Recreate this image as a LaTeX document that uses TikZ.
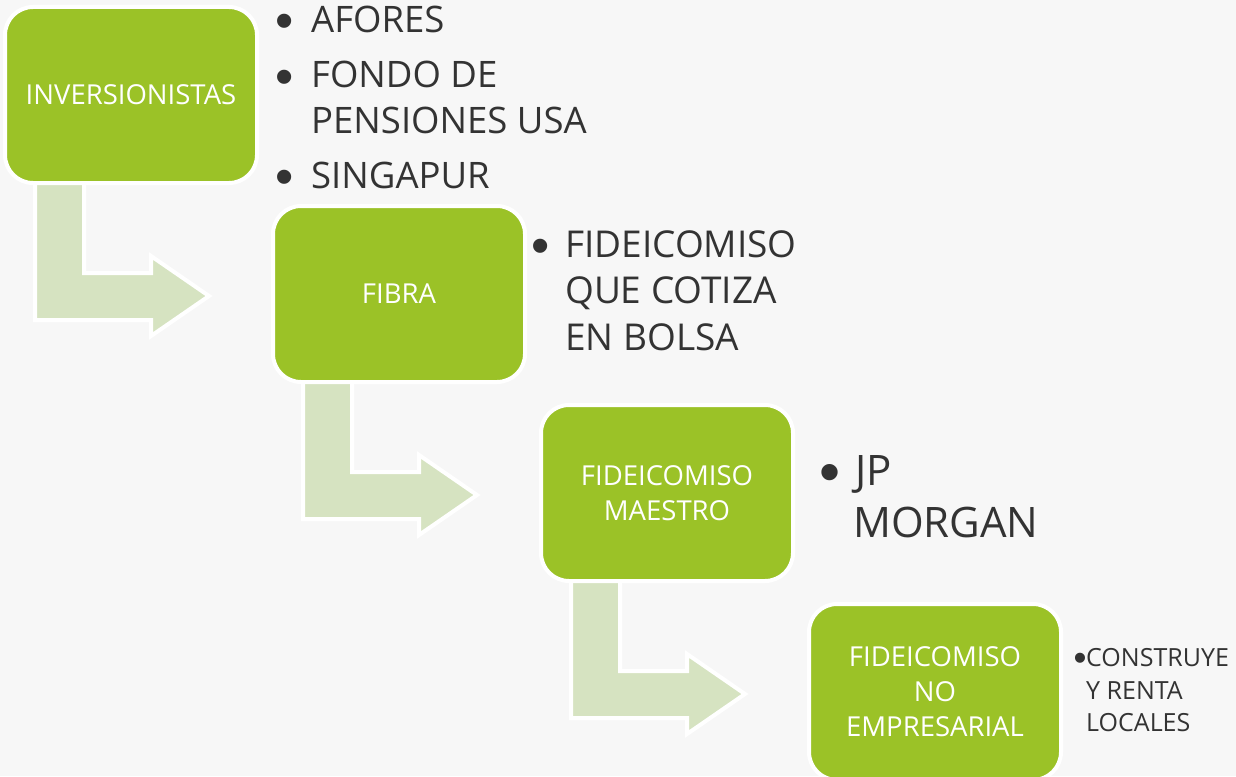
\documentclass[tikz,border=0pt]{standalone}
\usepackage{fontspec}
\setmainfont{Open Sans}
\newfontfamily\bulletfont{Liberation Sans}
\definecolor{bgcol}{HTML}{F7F7F7}
\definecolor{boxgreen}{HTML}{9BC227}
\definecolor{arrowgreen}{HTML}{D6E3C1}
\definecolor{txtgray}{HTML}{333333}
\tikzset{
  greenbox/.style={fill=boxgreen, draw=white, line width=4pt, rounded corners=28pt,
    minimum width=252pt, minimum height=176pt, inner sep=0pt, text=white, align=center,
    font=\fontsize{27.5}{35}\selectfont},
  bentarrow/.style={fill=arrowgreen, draw=white, line width=4pt, line join=miter},
  bodytext/.style={inner sep=0pt, anchor=base west, text=txtgray},
  bulletmark/.style={inner sep=0pt, anchor=base, text=txtgray},
}
\begin{document}
\begin{tikzpicture}[x=1pt,y=-1pt]
\useasboundingbox (0,0) rectangle (1236,776);
\fill[bgcol] (0,0) rectangle (1236,776);

\path (131,95) coordinate (c1) (399,294) coordinate (c2) (667,493) coordinate (c3) (935,692) coordinate (c4);
\foreach \i in {1,2,3}{
  \path (c\i) ++(-126,88) coordinate (sw\i);
  \draw[bentarrow] ([shift={(30,-33)}]sw\i) -- ++(49,0) -- ++(0,123) -- ++(67,0) -- ++(0,-17)
     -- ++(58,40) -- ++(-58,40) -- ++(0,-16) -- ++(-116,0) -- cycle;
}

\node[greenbox] (b1) at (c1) {INVERSIONISTAS};
\node[greenbox] (b2) at (c2) {FIBRA};
\node[greenbox] (b3) at (c3) {FIDEICOMISO\\MAESTRO};
\node[greenbox] (b4) at (c4) {FIDEICOMISO\\NO\\EMPRESARIAL};

% column 1
\begin{scope}[every node/.append style={font=\fontsize{36.5}{44}\selectfont}]
\node[bulletmark, font=\fontsize{52}{52}\selectfont] (u11) at (285,39) {\bulletfont •};
\node[bodytext] (t11) at (311,33) {AFORES};
\node[bulletmark, font=\fontsize{52}{52}\selectfont] (u12) at (285,94) {\bulletfont •};
\node[bodytext] (t12) at (311,88) {FONDO DE};
\node[bodytext] (t13) at (311,133) {PENSIONES USA};
\node[bulletmark, font=\fontsize{52}{52}\selectfont] (u13) at (285,194) {\bulletfont •};
\node[bodytext] (t14) at (311,188) {SINGAPUR};
\end{scope}
% column 2
\begin{scope}[every node/.append style={font=\fontsize{37}{46}\selectfont}]
\node[bulletmark, font=\fontsize{52}{52}\selectfont] (u21) at (541,263) {\bulletfont •};
\node[bodytext] (t21) at (565,257) {FIDEICOMISO};
\node[bodytext] (t22) at (565,303) {QUE COTIZA};
\node[bodytext] (t23) at (565,350) {EN BOLSA};
\end{scope}
% column 3
\begin{scope}[every node/.append style={font=\fontsize{42}{50}\selectfont}]
\node[bulletmark, font=\fontsize{60}{60}\selectfont] (u31) at (830,492) {\bulletfont •};
\node[bodytext] (t31) at (855,485) {JP};
\node[bodytext] (t32) at (853,537) {MORGAN};
\end{scope}
% column 4
\begin{scope}[every node/.append style={font=\fontsize{25}{32}\selectfont}]
\node[bulletmark, font=\fontsize{37}{37}\selectfont] (u41) at (1080,670) {\bulletfont •};
\node[bodytext] (t41) at (1086,666) {CONSTRUYE};
\node[bodytext] (t42) at (1086,699) {Y RENTA};
\node[bodytext] (t43) at (1086,731) {LOCALES};
\end{scope}
\end{tikzpicture}
\end{document}
